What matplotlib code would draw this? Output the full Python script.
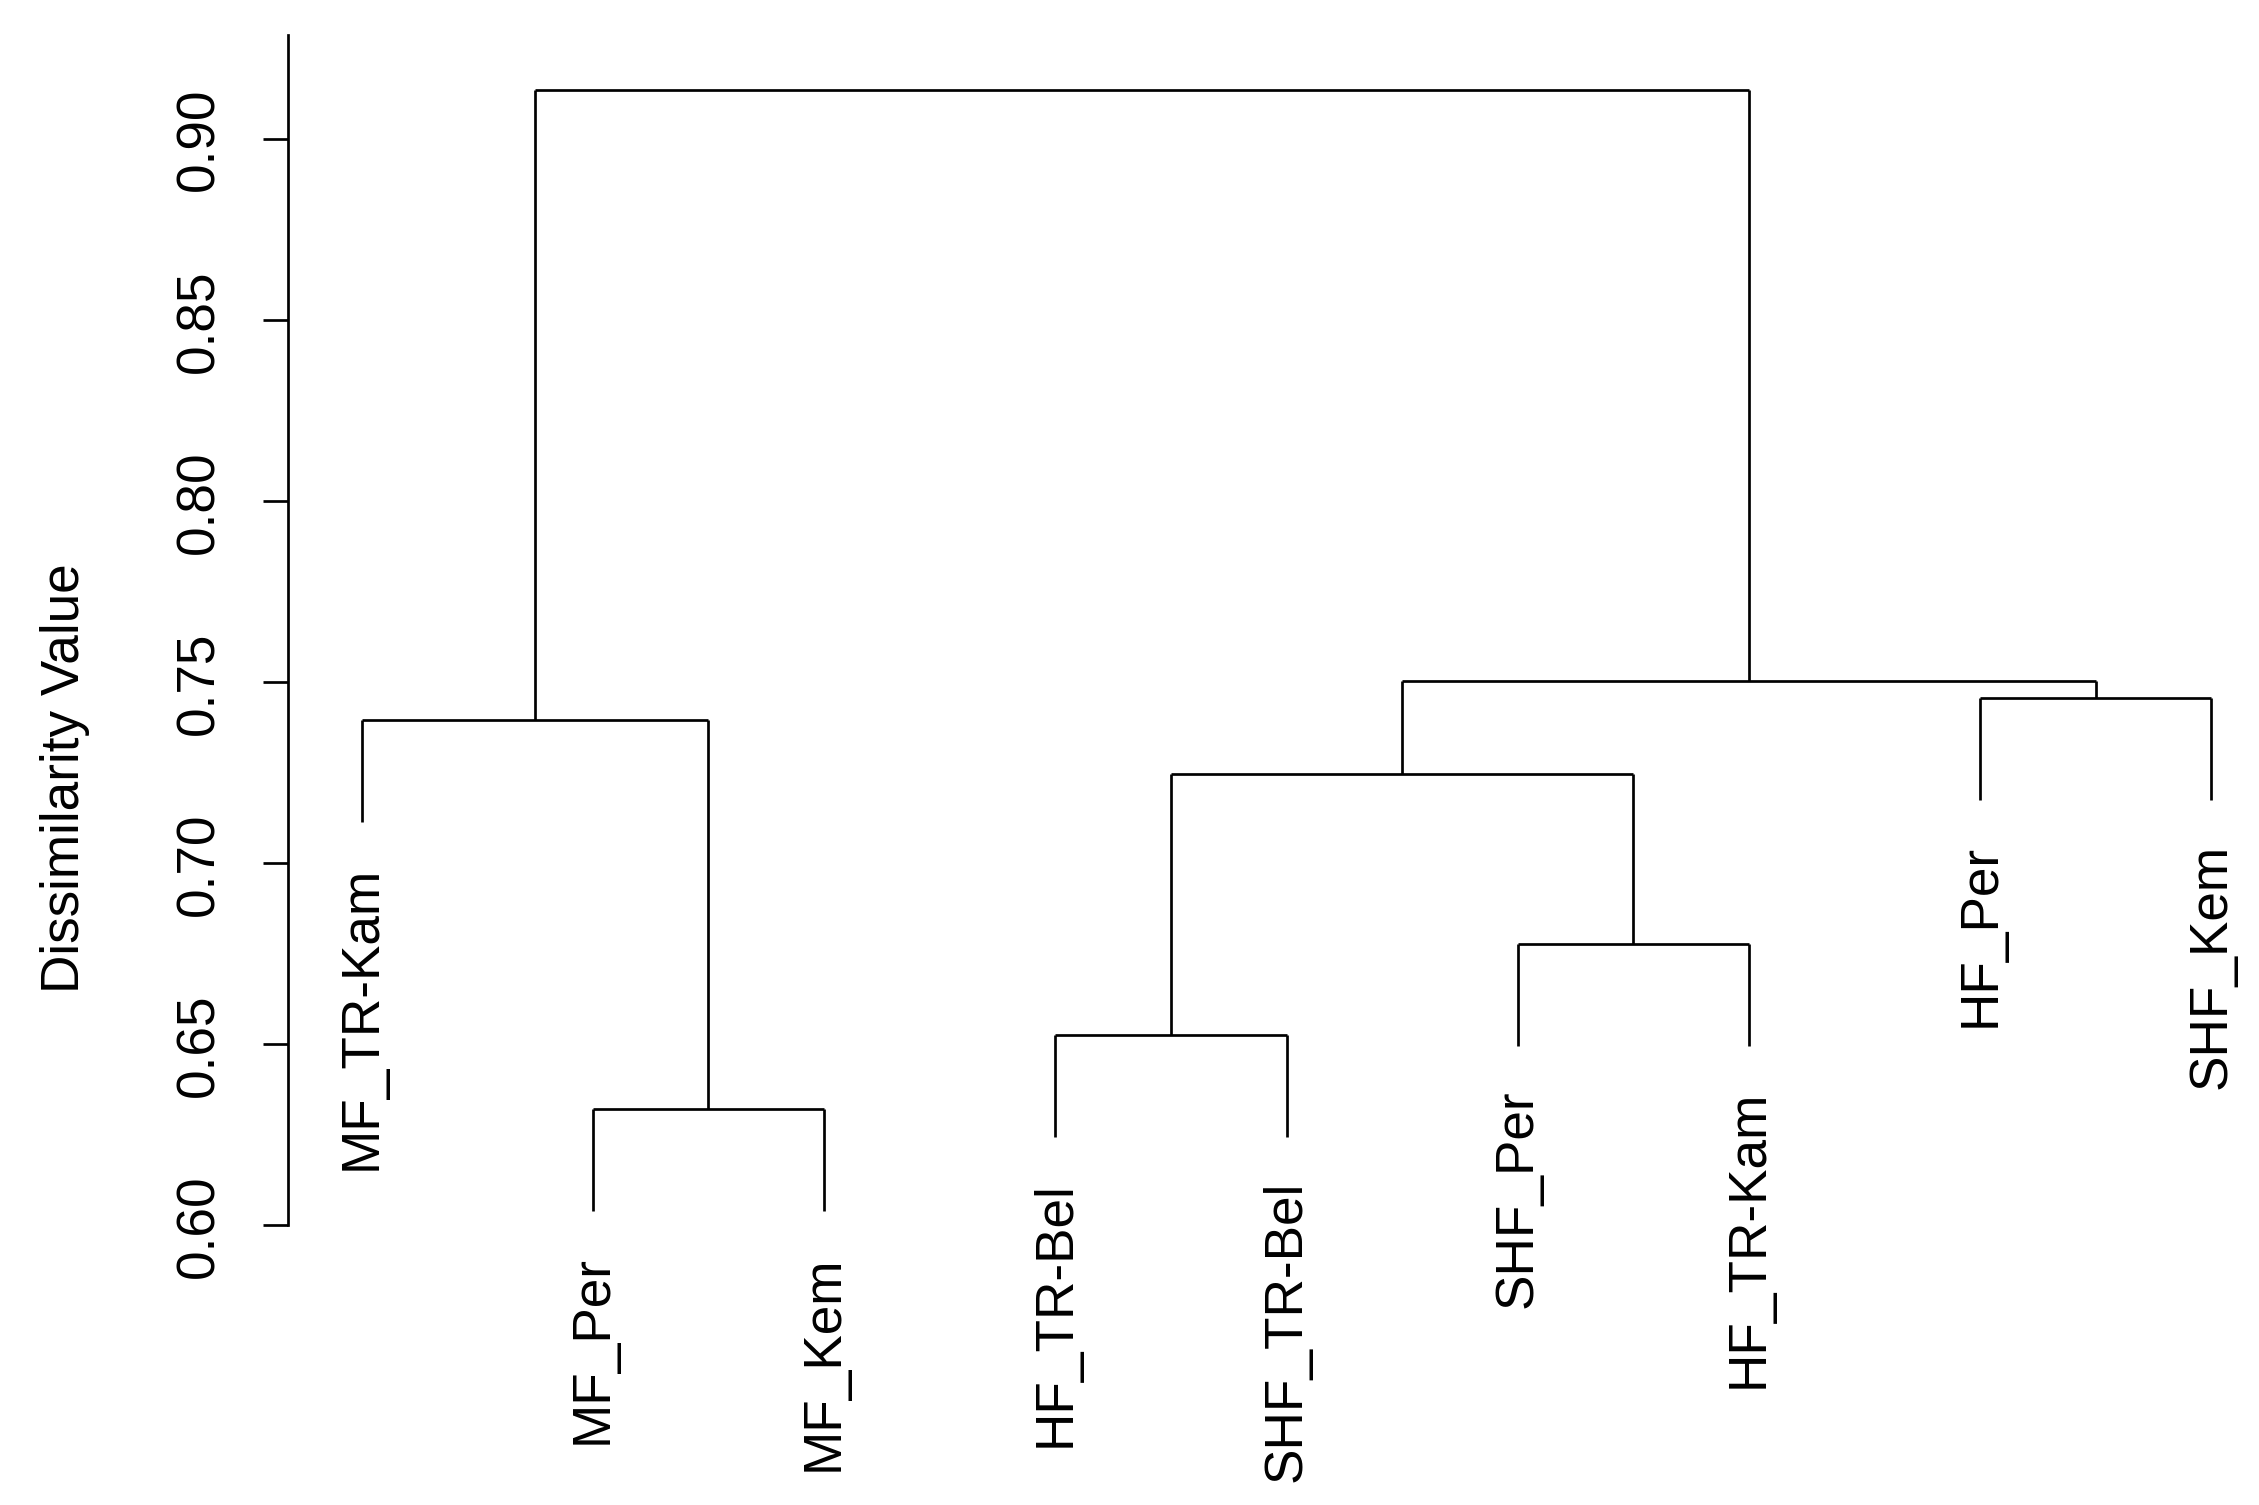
import numpy as np
import matplotlib.pyplot as plt

plt.rcParams['font.family'] = ['Liberation Sans', 'DejaVu Sans']

# Leaf labels in plotted order
labels = ["MF_TR-Kam", "MF_Per", "MF_Kem", "HF_TR-Bel", "SHF_TR-Bel",
          "SHF_Per", "HF_TR-Kam", "HF_Per", "SHF_Kem"]

# Merge table (R hclust style): negative = leaf (1-based), positive = earlier merge
merge_a = [-2, -4, -6, 2, -1, -8, 4, 5]
merge_b = [-3, -5, -7, 3, 1, -9, 6, 7]
heights = [0.632, 0.6525, 0.6776, 0.7245, 0.7396, 0.7456, 0.7504, 0.9135]

yticks = [0.60, 0.65, 0.70, 0.75, 0.80, 0.85, 0.90]

hang = 0.1 * (max(heights) - min(heights))
fs = 25.5
lw = 1.3

fig = plt.figure(figsize=(15.06, 10.04), dpi=150)
ax = fig.add_axes([0.12755, 0.16555, 0.87245, 0.8105])

leaf_x = np.arange(1, len(labels) + 1)
node_x = {}

def child_pos(c):
    if c < 0:
        return leaf_x[-c - 1], None
    return node_x[c], heights[c - 1]

for i, (a, b, h) in enumerate(zip(merge_a, merge_b, heights), start=1):
    xa, ha = child_pos(a)
    xb, hb = child_pos(b)
    ax.plot([xa, xb], [h, h], color='black', lw=lw, solid_capstyle='butt')
    for c, xc, hc in [(a, xa, ha), (b, xb, hb)]:
        if hc is None:
            hc = h - hang
            ax.annotate(labels[-c - 1], (xc, hc), xytext=(0, -20.5),
                        textcoords='offset points', rotation=90,
                        ha='center', va='top', fontsize=fs)
        ax.plot([xc, xc], [h, hc], color='black', lw=lw, solid_capstyle='butt')
    node_x[i] = (xa + xb) / 2

ax.set_xlim(0.682, 9.206)
ax.set_ylim(0.5916, 0.9286)
ax.set_yticks(yticks)
ax.set_yticklabels([f"{t:.2f}" for t in yticks], rotation=90, va='center', fontsize=fs)
ax.tick_params(axis='y', length=11.8, width=lw, pad=19)
ax.set_xticks([])
for s in ['top', 'right', 'bottom']:
    ax.spines[s].set_visible(False)
ax.spines['left'].set_linewidth(lw)
ax.spines['left'].set_bounds(0.60, 0.9286)

fig.text(45 / 1568, 1 - 540 / 1045, "Dissimilarity Value", rotation=90,
         ha='center', va='center', fontsize=fs)

fig.savefig("out.png", dpi=150)
